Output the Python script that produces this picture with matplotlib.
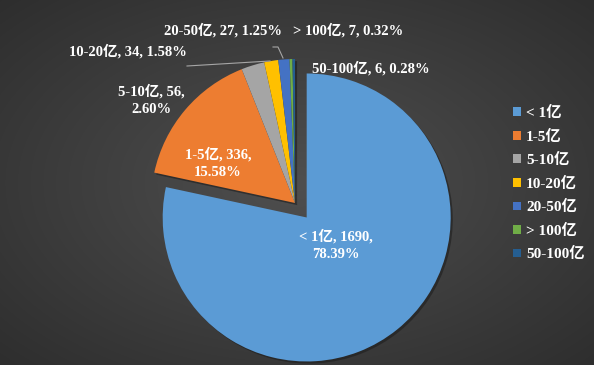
import numpy as np
import matplotlib
matplotlib.use('Agg')
from matplotlib import pyplot as plt

plt.rcParams['font.family'] = ['Liberation Serif', 'Noto Sans CJK SC']
plt.rcParams['font.weight'] = 'bold'

labels = ['< 1亿', '1-5亿', '5-10亿', '10-20亿', '20-50亿', '> 100亿', '50-100亿']
counts = [1690, 336, 56, 34, 27, 7, 6]
colors = ['#5B9BD5', '#ED7D31', '#A5A5A5', '#FFC000', '#4472C4', '#70AD47', '#255E91']

W, H = 594, 365
fig = plt.figure(figsize=(W / 100, H / 100), dpi=100)
ax = fig.add_axes([0, 0, 1, 1])

# radial gradient background
yy, xx = np.mgrid[0:H, 0:W]
d = np.hypot((xx - W * 0.5) / (W * 0.5), (yy - H * 0.5) / (H * 0.5)) / np.sqrt(2)
bg = 0.31 - 0.13 * d
ax.imshow(np.dstack([bg, bg, bg]), extent=(0, W, 0, H), zorder=0, aspect='auto')

wedges, _ = ax.pie(counts, colors=colors, startangle=90, counterclock=False,
                   radius=144, center=(295, 162), explode=[18.6, 0, 0, 0, 0, 0, 0],
                   wedgeprops={'linewidth': 0},
                   shadow={'ox': 1.5, 'oy': -1.5, 'facecolor': '#1e1e1e',
                           'edgecolor': 'none', 'alpha': 0.6},
                   frame=True)
ax.set_xlim(0, W)
ax.set_ylim(0, H)
ax.axis('off')

total = sum(counts)
pct = [c / total * 100 for c in counts]

def lab(i, two_lines=False):
    sep = '\n' if two_lines else ' '
    return '%s, %d,%s%.2f%%' % (labels[i], counts[i], sep, pct[i])

fs = 10.5
txt = dict(color='white', fontsize=fs, ha='center', va='center', linespacing=1.45)
# label positions in pixel coords (y from top)
pos = [(336, 245, True), (218, 163, True), (151, 100, True), (128, 51, False),
       (223, 30, False), (348, 30, False), (371, 68, False)]
for i, (x, y, two) in enumerate(pos):
    ax.text(x, H - y, lab(i, two), **txt)

# leader lines
lc = '#a6a6a6'
ax.plot([187, 270], [H - 66, H - 61], color=lc, lw=0.8)
ax.plot([273, 278, 283], [H - 47, H - 47, H - 58], color=lc, lw=0.8)

leg = ax.legend(wedges, labels, loc='upper left', bbox_to_anchor=(513 / W, 1 - 106 / H),
                frameon=False, labelcolor='white', fontsize=11,
                handlelength=0.5, handleheight=0.5, handletextpad=0.35,
                labelspacing=0.62, borderpad=0, borderaxespad=0)

fig.savefig('out.png', dpi=100)
